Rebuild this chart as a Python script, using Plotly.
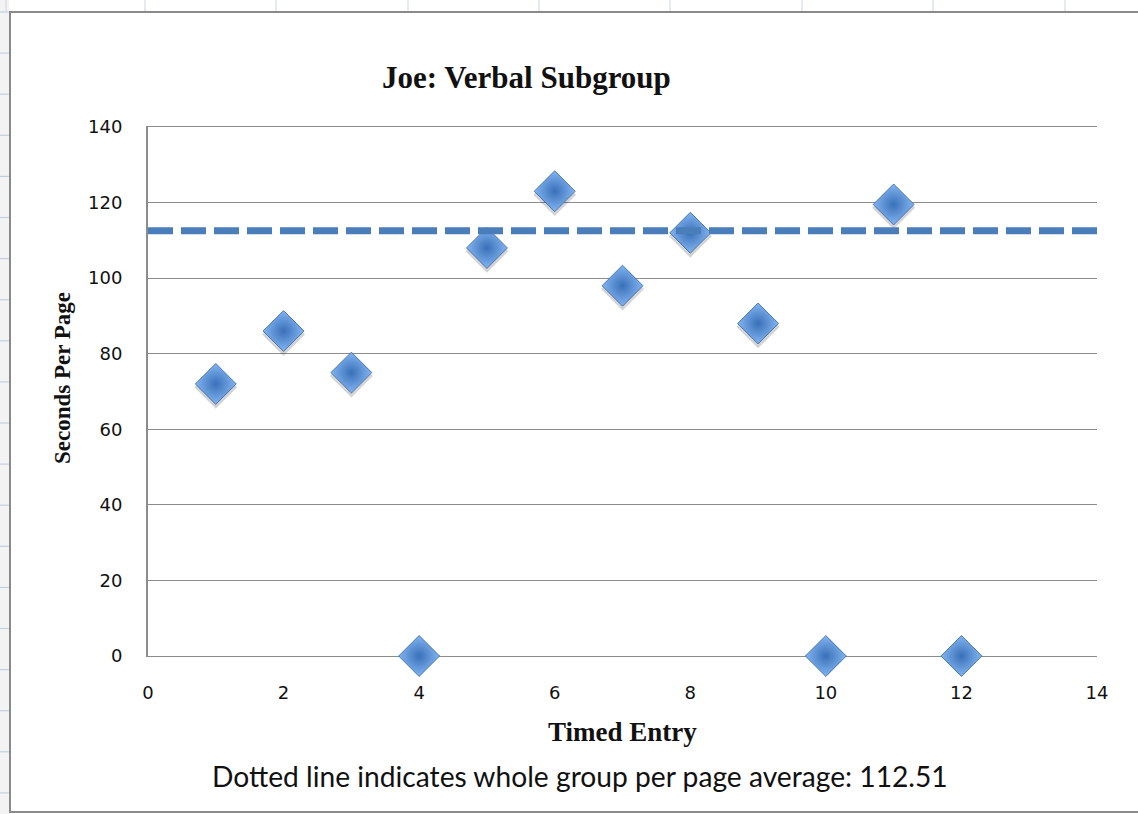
import plotly.graph_objects as go

# Timed entries and seconds per page for Joe (verbal subgroup)
entries = [1, 2, 3, 4, 5, 6, 7, 8, 9, 10, 11, 12]
seconds_per_page = [72, 86, 75, 0, 108, 123, 98, 112, 88, 0, 119.5, 0]
group_average = 112.51
x_ticks = [0, 2, 4, 6, 8, 10, 12, 14]
y_ticks = [0, 20, 40, 60, 80, 100, 120, 140]

W, H = 1138, 814
L, R, T, B = 148, 41, 127, 158
PW, PH = W - L - R, H - T - B


def px(x):
    return (x - L) / PW


def py(y):
    return (H - B - y) / PH


fig = go.Figure()

# drop shadow under each diamond
fig.add_trace(go.Scatter(
    x=entries, y=[v - 0.9 for v in seconds_per_page], mode="markers",
    marker=dict(symbol="diamond", size=33, color="rgba(60,60,60,0.22)",
                line=dict(width=0)),
    hoverinfo="skip", showlegend=False, cliponaxis=False,
))
# the diamonds
fig.add_trace(go.Scatter(
    x=entries, y=seconds_per_page, mode="markers",
    marker=dict(symbol="diamond", size=31.5, color="#82B5F2",
                gradient=dict(type="radial", color="#3A70B8"),
                line=dict(width=0.8, color="#3563A0")),
    showlegend=False, cliponaxis=False,
))
# whole-group average
fig.add_trace(go.Scatter(
    x=[0, 14], y=[group_average, group_average], mode="lines",
    line=dict(color="#4A7EBB", width=7, dash="25px,8px"),
    showlegend=False, hoverinfo="skip",
))

shapes = []
# spreadsheet row header strip and grid around the chart object
shapes.append(dict(type="rect", xref="paper", yref="paper",
                   x0=px(0), x1=px(9), y0=py(0), y1=py(H),
                   fillcolor="#F3F3F3", line=dict(width=0), layer="below"))
row_y = 12
while row_y < H:
    shapes.append(dict(type="line", xref="paper", yref="paper",
                       x0=px(0), x1=px(9), y0=py(row_y), y1=py(row_y),
                       line=dict(color="#C5CEE0", width=1.2)))
    row_y += 41.1
for cx in [6, 145, 276, 408, 539, 670, 802, 933, 1065]:
    shapes.append(dict(type="line", xref="paper", yref="paper",
                       x0=px(cx), x1=px(cx), y0=py(0), y1=py(12),
                       line=dict(color="#D2DAEA", width=1.2)))
# chart object border
shapes.append(dict(type="rect", xref="paper", yref="paper",
                   x0=px(10), x1=px(W + 10), y0=py(812), y1=py(12),
                   fillcolor="rgba(0,0,0,0)",
                   line=dict(color="#8A8A8A", width=2)))

annotations = [
    dict(text="<b>Joe: Verbal Subgroup</b>", xref="paper", yref="paper",
         x=px(526), y=py(77), xanchor="center", yanchor="middle",
         showarrow=False,
         font=dict(family="Liberation Serif", size=31, color="#111111")),
    dict(text="<b>Timed Entry</b>", xref="paper", yref="paper",
         x=px(622), y=py(732), xanchor="center", yanchor="middle",
         showarrow=False,
         font=dict(family="Liberation Serif", size=27, color="#111111")),
    dict(text="<b>Seconds Per Page</b>", xref="paper", yref="paper",
         x=px(62), y=py(378), xanchor="center", yanchor="middle",
         showarrow=False, textangle=-90,
         font=dict(family="Liberation Serif", size=23, color="#111111")),
    dict(text="Dotted line indicates whole group per page average: " + f"{group_average:.2f}",
         xref="paper", yref="paper", x=px(580), y=py(776),
         xanchor="center", yanchor="middle", showarrow=False,
         font=dict(family="Lato", size=28.2, color="#111111")),
]

fig.update_layout(
    width=W, height=H,
    margin=dict(l=L, r=R, t=T, b=B),
    paper_bgcolor="white", plot_bgcolor="white",
    shapes=shapes, annotations=annotations,
    xaxis=dict(range=[0, 14], tickvals=x_ticks, showgrid=False, zeroline=False,
               showline=True, mirror=True, linecolor="#8C8C8C", linewidth=1.3,
               layer="below traces",
               ticks="outside", ticklen=20,
               tickcolor="rgba(0,0,0,0)",
               tickfont=dict(family="DejaVu Sans", size=18, color="#111111")),
    yaxis=dict(range=[0, 140], tickvals=y_ticks, showgrid=True,
               gridcolor="#8C8C8C", gridwidth=1.3, zeroline=False,
               showline=True, linecolor="#8C8C8C", linewidth=2,
               layer="below traces",
               ticks="outside", ticklen=20, tickcolor="rgba(0,0,0,0)",
               tickfont=dict(family="DejaVu Sans", size=18, color="#111111")),
)

fig.write_html("out.html")
